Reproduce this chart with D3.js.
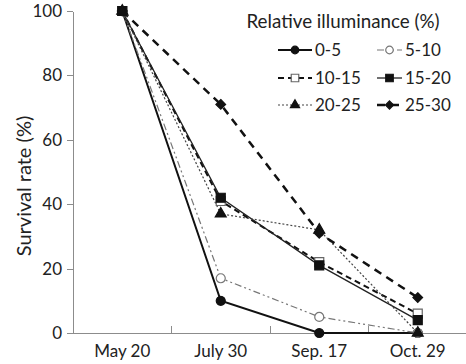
<!DOCTYPE html>
<html lang="en">
  <head>
    <meta charset="utf-8" />
    <title>Survival rate</title>
    <style>
      body,
      html {
        margin: 0;
        padding: 0;
        background: #ffffff;
      }
      svg text {
        font-family: Lato, "Open Sans", sans-serif;
        fill: #222;
      }
      .axis path,
      .axis line {
        stroke: #8c8c8c;
        shape-rendering: crispEdges;
      }
    </style>
    <script src="https://cdn.jsdelivr.net/npm/d3@7"></script>
  </head>
<body>
<svg width="466" height="364"></svg>
<script>
  // data
  var dates = ["May 20", "July 30", "Sep. 17", "Oct. 29"];
  var yTicks = [0, 20, 40, 60, 80, 100];
  var groups = ["0-5", "5-10", "10-15", "15-20", "20-25", "25-30"];
  var s0_5 = [100, 10, 0, 0];
  var s5_10 = [100, 17, 5, 0];
  var s10_15 = [100, 41, 22, 6];
  var s15_20 = [100, 42, 21, 4];
  var s20_25 = [100, 37, 32, 0];
  var s25_30 = [100, 71, 31, 11];

  var values = [s0_5, s5_10, s10_15, s15_20, s20_25, s25_30];

  // look of each series
  var styles = [
    { stroke: "#111", width: 2, dash: null, sym: d3.symbolCircle, size: 64, fill: "#111", mstroke: "#111" },
    { stroke: "#777", width: 1.2, dash: "7,3,2,3,2,3", sym: d3.symbolCircle, size: 64, fill: "#fff", mstroke: "#777" },
    { stroke: "#111", width: 2, dash: "6,4", sym: d3.symbolSquare, size: 81, fill: "#fff", mstroke: "#666" },
    { stroke: "#222", width: 1.3, dash: null, sym: d3.symbolSquare, size: 81, fill: "#111", mstroke: "#111" },
    { stroke: "#444", width: 1.2, dash: "2,2", sym: d3.symbolTriangle, size: 52, fill: "#111", mstroke: "#111" },
    { stroke: "#111", width: 2.5, dash: "8,6", sym: d3.symbolDiamond2, size: 60, fill: "#111", mstroke: "#111" }
  ];

  var svg = d3.select("svg");
  var mLeft = 73, mRight = 467, mTop = 11, mBottom = 333;

  var x = d3.scaleBand().domain(dates).range([mLeft, mRight]);
  var y = d3.scaleLinear().domain([0, 100]).range([mBottom, mTop]);
  function cx(d) { return x(d) + x.bandwidth() / 2; }

  // y axis
  var yAxis = svg.append("g")
    .attr("class", "axis")
    .attr("transform", "translate(" + mLeft + ",0)")
    .call(d3.axisLeft(y).tickValues(yTicks).tickSize(6).tickSizeOuter(0));
  yAxis.selectAll("text")
    .style("font-size", "17px")
    .style("font-family", "Lato, sans-serif")
    .attr("fill", "#222")
    .attr("x", -11);

  // x axis line with inward ticks at band edges
  var xAxis = svg.append("g").attr("class", "axis");
  xAxis.append("line")
    .attr("x1", mLeft).attr("x2", mRight)
    .attr("y1", mBottom).attr("y2", mBottom);
  xAxis.selectAll(".xt")
    .data(dates.slice(1))
    .enter().append("line")
    .attr("class", "xt")
    .attr("x1", function(d) { return x(d); })
    .attr("x2", function(d) { return x(d); })
    .attr("y1", mBottom).attr("y2", mBottom - 7);
  xAxis.selectAll(".xl")
    .data(dates)
    .enter().append("text")
    .attr("class", "xl")
    .attr("x", cx)
    .attr("y", 357)
    .attr("text-anchor", "middle")
    .style("font-size", "17px")
    .text(function(d) { return d; });

  svg.append("text")
    .attr("transform", "translate(31,186) rotate(-90)")
    .attr("text-anchor", "middle")
    .style("font-size", "20px")
    .text("Survival rate (%)");

  var line = d3.line()
    .x(function(d, i) { return cx(dates[i]); })
    .y(function(d) { return y(d); });

  // draw series
  values.forEach(function(v, k) {
    var st = styles[k];
    svg.append("path")
      .datum(v)
      .attr("d", line)
      .attr("fill", "none")
      .attr("stroke", st.stroke)
      .attr("stroke-width", st.width)
      .attr("stroke-dasharray", st.dash);
  });
  values.forEach(function(v, k) {
    var st = styles[k];
    svg.selectAll(".m" + k)
      .data(v)
      .enter().append("path")
      .attr("class", "m" + k)
      .attr("transform", function(d, i) { return "translate(" + cx(dates[i]) + "," + y(d) + ")"; })
      .attr("d", d3.symbol().type(st.sym).size(st.size))
      .attr("fill", st.fill)
      .attr("stroke", st.mstroke)
      .attr("stroke-width", 1.2);
  });

  // legend
  var legend = svg.append("g");
  legend.append("text")
    .attr("x", 343).attr("y", 28)
    .attr("text-anchor", "middle")
    .style("font-size", "18.8px")
    .text("Relative illuminance (%)");

  var colX = [[278, 312], [377, 402]];
  var rowY = [50, 78, 105];
  groups.forEach(function(g, k) {
    var st = styles[k];
    var c = colX[k % 2], ry = rowY[Math.floor(k / 2)];
    legend.append("line")
      .attr("x1", c[0]).attr("x2", c[1])
      .attr("y1", ry).attr("y2", ry)
      .attr("stroke", st.stroke)
      .attr("stroke-width", st.width)
      .attr("stroke-dasharray", st.dash);
    legend.append("path")
      .attr("transform", "translate(" + (c[0] + c[1]) / 2 + "," + ry + ")")
      .attr("d", d3.symbol().type(st.sym).size(st.size * 0.7))
      .attr("fill", st.fill)
      .attr("stroke", st.mstroke)
      .attr("stroke-width", 1.2);
    legend.append("text")
      .attr("x", c[1] + 3).attr("y", ry + 6)
      .style("font-size", "17px")
      .text(g);
  });
</script>
</body>
</html>
